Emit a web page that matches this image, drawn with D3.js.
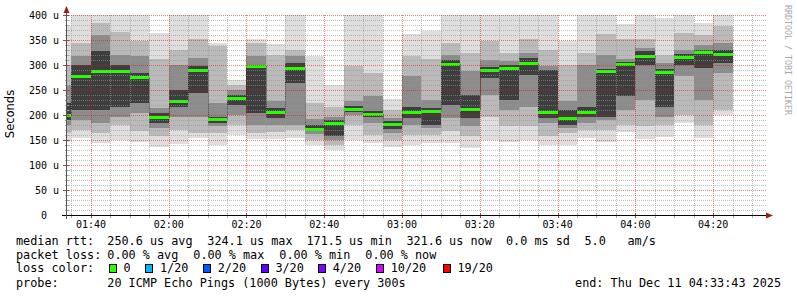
<!DOCTYPE html>
<html>
<head>
<meta charset="utf-8">
<script src="https://cdn.jsdelivr.net/npm/d3@7"></script>
<style>
    body { margin: 0; background: #fff; }
    text { font-family: "DejaVu Sans Mono", monospace; fill: #000; white-space: pre; }
</style>
</head>
<body>
<div id="chart"></div>
<script>
// smokeping rtt in microseconds, one column per 5 min step (first one is cut at the left edge)
let columnStarts = ["01:30","01:35","01:40","01:45","01:50","01:55","02:00","02:05","02:10","02:15",
    "02:20","02:25","02:30","02:35","02:40","02:45","02:50","02:55","03:00","03:05",
    "03:10","03:15","03:20","03:25","03:30","03:35","03:40","03:45","03:50","03:55",
    "04:00","04:05","04:10","04:15","04:20"];
let medianRtt = [200,278,289,289,277,196,228,291,191,234,297,207,293,173,184,212,202,182,206,209,
    303,212,290,293,305,207,194,207,289,302,319,286,316,326,323];
// smoke bands: outer (min..max) down to inner (lo4..hi4)
let smokeMin = [147,154,145,151,147,137,143,154,141,161,152,152,154,141,131,151,145,137,141,144,
    145,134,151,147,151,141,141,154,147,167,152,157,184,154,201];
let smokeLo2 = [165,171,165,181,168,158,171,165,165,180,165,166,170,151,141,181,161,151,161,161,
    168,158,197,178,178,158,165,171,171,181,178,181,200,181,211];
let smokeLo3 = [180,191,184,197,204,175,197,197,178,200,181,180,181,163,150,200,185,165,180,175,
    194,178,240,211,216,184,175,185,190,211,231,197,278,231,285];
let smokeLo4 = [190,211,211,216,224,185,216,245,185,220,204,195,265,168,158,207,197,172,195,181,
    221,195,275,231,281,195,180,197,197,238,300,216,300,295,305];
let smokeHi4 = [225,300,328,300,285,205,250,298,197,240,301,215,305,180,190,218,208,188,216,214,
    310,240,296,300,315,290,211,216,292,306,328,292,322,330,330];
let smokeHi3 = [260,318,360,321,318,215,301,315,225,250,318,228,318,192,197,228,238,195,278,231,
    320,289,310,309,325,298,228,301,321,312,335,305,330,340,345];
let smokeHi2 = [300,345,385,367,348,312,331,352,338,260,345,321,331,225,216,298,285,211,318,312,
    345,325,348,325,352,331,301,325,362,352,352,321,365,360,379];
let smokeMax = [378,420,420,420,420,365,400,410,345,270,353,342,420,318,261,420,420,233,362,368,
    420,420,420,420,420,420,348,420,420,382,420,395,420,385,420];

let yTicks = [0,50,100,150,200,250,300,350,400];
let yTickLabels = ["0  ","50 u","100 u","150 u","200 u","250 u","300 u","350 u","400 u"];
let timeTicks = ["01:40","02:00","02:20","02:40","03:00","03:20","03:40","04:00","04:20"];

let lossLabels = ["0","1/20","2/20","3/20","4/20","10/20","19/20"];
let lossColors = ["#26ff00","#00b8ff","#0059ff","#5e00ff","#7e00ff","#dd00ff","#ff0000"];

let rttLegend = ["median rtt:","250.6 us avg","324.1 us max","171.5 us min","321.6 us now","0.0 ms sd","5.0","am/s"];
let lossLegend = ["packet loss:","0.00 % avg","0.00 % max","0.00 % min","0.00 % now"];

const parseT = d3.timeParse("%H:%M:%S");
const parseHM = d3.timeParse("%H:%M");
let startTime = parseT("01:33:43"), endTime = parseT("04:33:43");

let margin = {left: 66.5, top: 15, width: 700, height: 200};

let svg = d3.select("#chart").append("svg")
    .attr("width", 797)
    .attr("height", 297);

svg.append("rect").attr("width", 797).attr("height", 297).attr("fill", "#fff");

let x = d3.scaleTime().domain([startTime, endTime]).range([margin.left, margin.left + margin.width]);
let y = d3.scaleLinear().domain([0, 400]).range([margin.top + margin.height, margin.top]);

svg.append("clipPath").attr("id", "plotclip")
    .append("rect")
    .attr("x", margin.left).attr("y", margin.top)
    .attr("width", margin.width).attr("height", margin.height);

// build column objects
let columns = columnStarts.map((s, i) => {
    let t0 = parseHM(s);
    return {
        t0: t0, t1: d3.timeMinute.offset(t0, 5), med: medianRtt[i],
        bands: [
            [smokeMin[i], smokeMax[i]],
            [smokeLo2[i], smokeHi2[i]],
            [smokeLo3[i], smokeHi3[i]],
            [smokeLo4[i], smokeHi4[i]]
        ]
    };
});
let bandColors = ["#dedede", "#bababa", "#8c8c8c", "#3e3e3e"];

let plot = svg.append("g").attr("clip-path", "url(#plotclip)");

// smoke
bandColors.forEach((col, k) => {
    plot.append("g").selectAll("rect")
        .data(columns)
        .enter()
        .append("rect")
        .attr("x", d => Math.round(x(d.t0)))
        .attr("width", d => Math.round(x(d.t1)) - Math.round(x(d.t0)))
        .attr("y", d => y(d.bands[k][1]))
        .attr("height", d => y(d.bands[k][0]) - y(d.bands[k][1]))
        .attr("fill", col)
        .attr("shape-rendering", "crispEdges");
});

// grid (dotted, drawn over the smoke)
let grid = svg.append("g");
let minorY = d3.range(10, 401, 10).filter(v => v % 50 !== 0);
let minorX = d3.timeMinute.every(5).range(startTime, endTime).filter(t => t.getMinutes() % 20 !== 0);
let px = v => Math.round(v) + 0.5;

grid.selectAll(".hminor").data(minorY).enter().append("line")
    .attr("x1", margin.left + 0.5).attr("x2", margin.left + margin.width)
    .attr("y1", d => px(y(d))).attr("y2", d => px(y(d)))
    .attr("stroke", "rgba(150,150,150,0.6)").attr("stroke-dasharray", "1 1");
grid.selectAll(".vminor").data(minorX).enter().append("line")
    .attr("y1", margin.top).attr("y2", margin.top + margin.height)
    .attr("x1", d => px(x(d))).attr("x2", d => px(x(d)))
    .attr("stroke", "rgba(150,150,150,0.6)").attr("stroke-dasharray", "1 1");
grid.selectAll(".hmajor").data(yTicks.filter(v => v > 0)).enter().append("line")
    .attr("x1", margin.left + 0.5).attr("x2", margin.left + margin.width)
    .attr("y1", d => px(y(d))).attr("y2", d => px(y(d)))
    .attr("stroke", "rgba(230,20,20,0.55)").attr("stroke-dasharray", "1 1");
grid.selectAll(".vmajor").data(timeTicks).enter().append("line")
    .attr("y1", margin.top).attr("y2", margin.top + margin.height)
    .attr("x1", d => px(x(parseHM(d)))).attr("x2", d => px(x(parseHM(d))))
    .attr("stroke", "rgba(230,20,20,0.55)").attr("stroke-dasharray", "1 1");

// median: thin dark step line, then loss coloured segments
let stepLine = d3.line()
    .x(d => Math.round(x(d.t)) + 0.5)
    .y(d => px(y(d.v)))
    .curve(d3.curveStepAfter);
let stepPts = columns.map(d => ({t: d.t0, v: d.med}));
stepPts.push({t: columns[columns.length - 1].t1, v: medianRtt[medianRtt.length - 1]});
plot.append("path")
    .attr("d", stepLine(stepPts))
    .attr("fill", "none")
    .attr("stroke", "#202020")
    .attr("stroke-width", 1)
    .attr("stroke-dasharray", "1 1");

plot.selectAll(".median").data(columns).enter().append("line")
    .attr("x1", d => Math.round(x(d.t0))).attr("x2", d => Math.round(x(d.t1)))
    .attr("y1", d => px(y(d.med))).attr("y2", d => px(y(d.med)))
    .attr("stroke", lossColors[0])
    .attr("stroke-width", 3);

// axes
let axisG = svg.append("g").attr("shape-rendering", "crispEdges");
axisG.selectAll(".ytick").data(d3.range(0, 401, 10)).enter().append("line")
    .attr("x1", d => d % 50 === 0 ? 63 : 64.5).attr("x2", 69)
    .attr("y1", d => px(y(d))).attr("y2", d => px(y(d)))
    .attr("stroke", d => d % 50 === 0 ? "#b04040" : "#aaa");
axisG.selectAll(".xtick").data(d3.timeMinute.every(5).range(startTime, endTime)).enter().append("line")
    .attr("y1", y(0) - 2).attr("y2", y(0) + 3)
    .attr("x1", d => px(x(d))).attr("x2", d => px(x(d)))
    .attr("stroke", d => d.getMinutes() % 20 === 0 ? "#b04040" : "#aaa");
axisG.append("line")
    .attr("x1", 62).attr("x2", 769)
    .attr("y1", y(0) + 0.5).attr("y2", y(0) + 0.5)
    .attr("stroke", "#000");
axisG.append("line")
    .attr("x1", 66.5).attr("x2", 66.5)
    .attr("y1", y(0) + 4).attr("y2", 10)
    .attr("stroke", "#555");

svg.append("path")
    .attr("d", "M766,212.5 L773,215.5 L766,218.5 Z")
    .attr("fill", "#9a1f1f");
svg.append("path")
    .attr("d", "M63.5,13 L66.5,6 L69.5,13 Z")
    .attr("fill", "#9a1f1f");

// axis labels
svg.selectAll(".ylabel").data(yTicks).enter().append("text")
    .attr("x", 59)
    .attr("y", d => y(d) + 3.5)
    .attr("text-anchor", "end")
    .attr("font-size", "10px")
    .text((d, i) => yTickLabels[i]);

svg.selectAll(".xlabel").data(timeTicks).enter().append("text")
    .attr("x", d => x(parseHM(d)))
    .attr("y", 228)
    .attr("text-anchor", "middle")
    .attr("font-size", "10px")
    .text(d => d);

svg.append("text")
    .attr("transform", "translate(14,114) rotate(-90)")
    .attr("text-anchor", "middle")
    .style("font-family", "'DejaVu Sans', sans-serif")
    .attr("font-size", "11.5px")
    .text("Seconds");

svg.append("text")
    .attr("transform", "translate(784.5,5) rotate(90)")
    .attr("text-anchor", "start")
    .attr("font-size", "8.3px")
    .style("fill", "#a8a8a8")
    .text("RRDTOOL / TOBI OETIKER");

// legend
let rttX = [16, 107.3, 207.3, 306.5, 406.5, 506, 584.5, 627.5];
let lossX = [16, 107.3, 193.3, 279.3, 365.3];
let boxX = [108.7, 145.3, 203, 260.7, 318, 376, 442.7];
let legend = svg.append("g").attr("font-size", "11.8px");

legend.selectAll(".rtt").data(rttLegend).enter().append("text")
    .attr("x", (d, i) => rttX[i]).attr("y", 245).text(d => d);
legend.selectAll(".loss").data(lossLegend).enter().append("text")
    .attr("x", (d, i) => lossX[i]).attr("y", 258.5).text(d => d);
legend.append("text").attr("x", 16).attr("y", 272).text("loss color:");
legend.selectAll(".lossbox").data(lossColors).enter().append("rect")
    .attr("x", (d, i) => boxX[i] + 0.5).attr("y", 264.5)
    .attr("width", 7).attr("height", 8)
    .attr("fill", d => d)
    .attr("stroke", "#000")
    .attr("shape-rendering", "crispEdges");
legend.selectAll(".losslabel").data(lossLabels).enter().append("text")
    .attr("x", (d, i) => boxX[i] + 14.7).attr("y", 272).text(d => d);
legend.append("text").attr("x", 16).attr("y", 286.5).text("probe:");
legend.append("text").attr("x", 107.3).attr("y", 286.5).text("20 ICMP Echo Pings (1000 Bytes) every 300s");
legend.append("text").attr("x", 781).attr("y", 286.5).attr("text-anchor", "end").text("end: Thu Dec 11 04:33:43 2025");
</script>
</body>
</html>
